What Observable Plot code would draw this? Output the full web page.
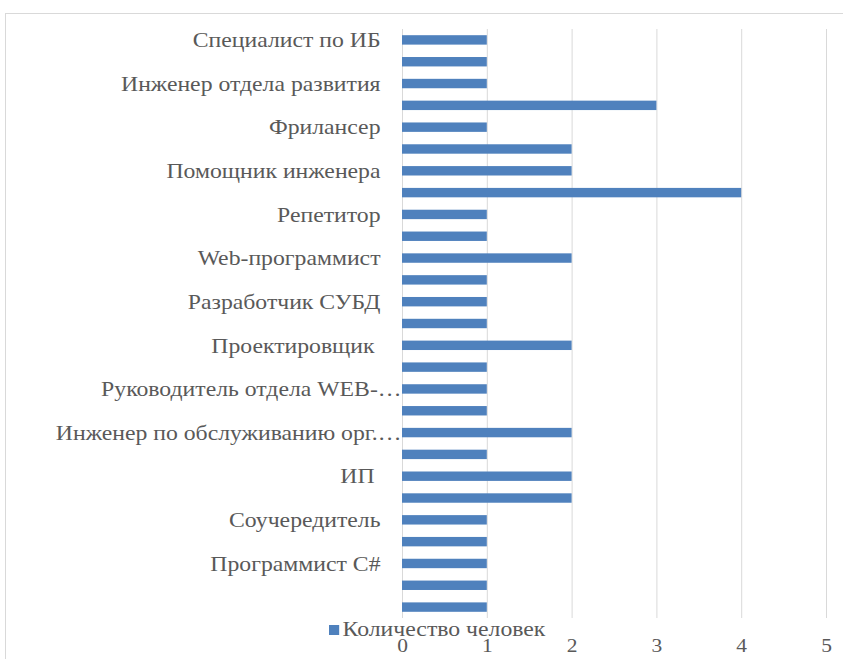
<!DOCTYPE html>
<html>
<head>
<meta charset="utf-8">
<script src="https://cdn.jsdelivr.net/npm/d3@7"></script>
<script src="https://cdn.jsdelivr.net/npm/@observablehq/plot@0.6"></script>
<style>
  html, body { margin: 0; padding: 0; background: #fff; overflow: hidden; }
  #wrap { position: relative; width: 843px; height: 659px; }
  #frame { position: absolute; left: 5px; top: 13px; width: 900px; height: 700px; border: 1.5px solid #d9d9d9; box-sizing: border-box; }
  #chart { position: absolute; left: 0; top: 0; }
  #legend { position: absolute; left: 329px; top: 617px; font: 21px "Liberation Serif", "Times New Roman", serif; color: #595959; display: flex; align-items: center; white-space: nowrap; transform: scaleX(1.13); transform-origin: 0 50%; }
  #legend span.sw { display: inline-block; width: 9px; height: 10px; background: #4f81bd; margin-right: 3px; }
</style>
</head>
<body>
<div id="wrap">
  <div id="frame"></div>
  <div id="chart"></div>
  <div id="legend"><span class="sw"></span><span id="legendText"></span></div>
</div>
<script>
// Categories top to bottom (every other label is hidden in the original; hidden ones unknown -> "")
const categories = [
  "Специалист по ИБ", "",
  "Инженер отдела развития", "",
  "Фрилансер", "",
  "Помощник инженера", "",
  "Репетитор", "",
  "Web-программист", "",
  "Разработчик СУБД", "",
  "Проектировщик ", "",
  "Руководитель отдела WEB-…", "",
  "Инженер по обслуживанию орг.…", "",
  "ИП ", "",
  "Соучередитель", "",
  "Программист C#", "",
  ""
];
const counts = [1, 1, 1, 3, 1, 2, 2, 4, 1, 1, 2, 1, 1, 1, 2, 1, 1, 1, 2, 1, 2, 2, 1, 1, 1, 1, 1];
const xTicks = [0, 1, 2, 3, 4, 5];
const seriesName = "Количество человек";

document.getElementById("legendText").textContent = seriesName;

const data = categories.map((c, i) => ({idx: i, label: c, value: counts[i]}));
const serif = "'Liberation Serif', 'Times New Roman', serif";
const truncated = data.filter(d => d.label.endsWith("…")).map(d => d.idx);
const normal = data.filter(d => d.label && !d.label.endsWith("…")).map(d => d.idx);

const chart = Plot.plot({
  width: 843,
  height: 659,
  marginLeft: 402,
  marginRight: 17,
  marginTop: 29,
  marginBottom: 41,
  style: {fontFamily: serif, fontSize: "21px", color: "#595959", background: "transparent"},
  x: {domain: [0, 5], ticks: xTicks},
  y: {domain: data.map(d => d.idx), padding: 0, round: false},
  marks: [
    Plot.gridX(xTicks, {stroke: "#d9d9d9", strokeOpacity: 1, strokeWidth: 1}),
    Plot.barX(data, {x: "value", y: "idx", fill: "#4f81bd", insetTop: 6.2, insetBottom: 6.2}),
    Plot.axisX({ticks: xTicks, tickSize: 0, tickPadding: 20, label: null, fill: "#595959", fontSize: 19, tickFormat: d3.format("d")}),
    Plot.axisY({ticks: normal, tickSize: 0, tickPadding: 22, label: null, fill: "#595959", fontSize: 21, tickFormat: i => categories[i]}),
    Plot.axisY({ticks: truncated, tickSize: 0, tickPadding: 1, label: null, fill: "#595959", fontSize: 21, tickFormat: i => categories[i]})
  ]
});
// widen text horizontally to match the stretched look of the original
chart.querySelectorAll("text").forEach(t => {
  const x = t.getAttribute("x");
  let nt = t.getAttribute("transform") || "";
  if (x !== null) {
    nt += ` translate(${+x || 0},0)`;
    t.removeAttribute("x");
  }
  t.setAttribute("transform", nt + " scale(1.13,1)");
});
document.getElementById("chart").appendChild(chart);
</script>
</body>
</html>
